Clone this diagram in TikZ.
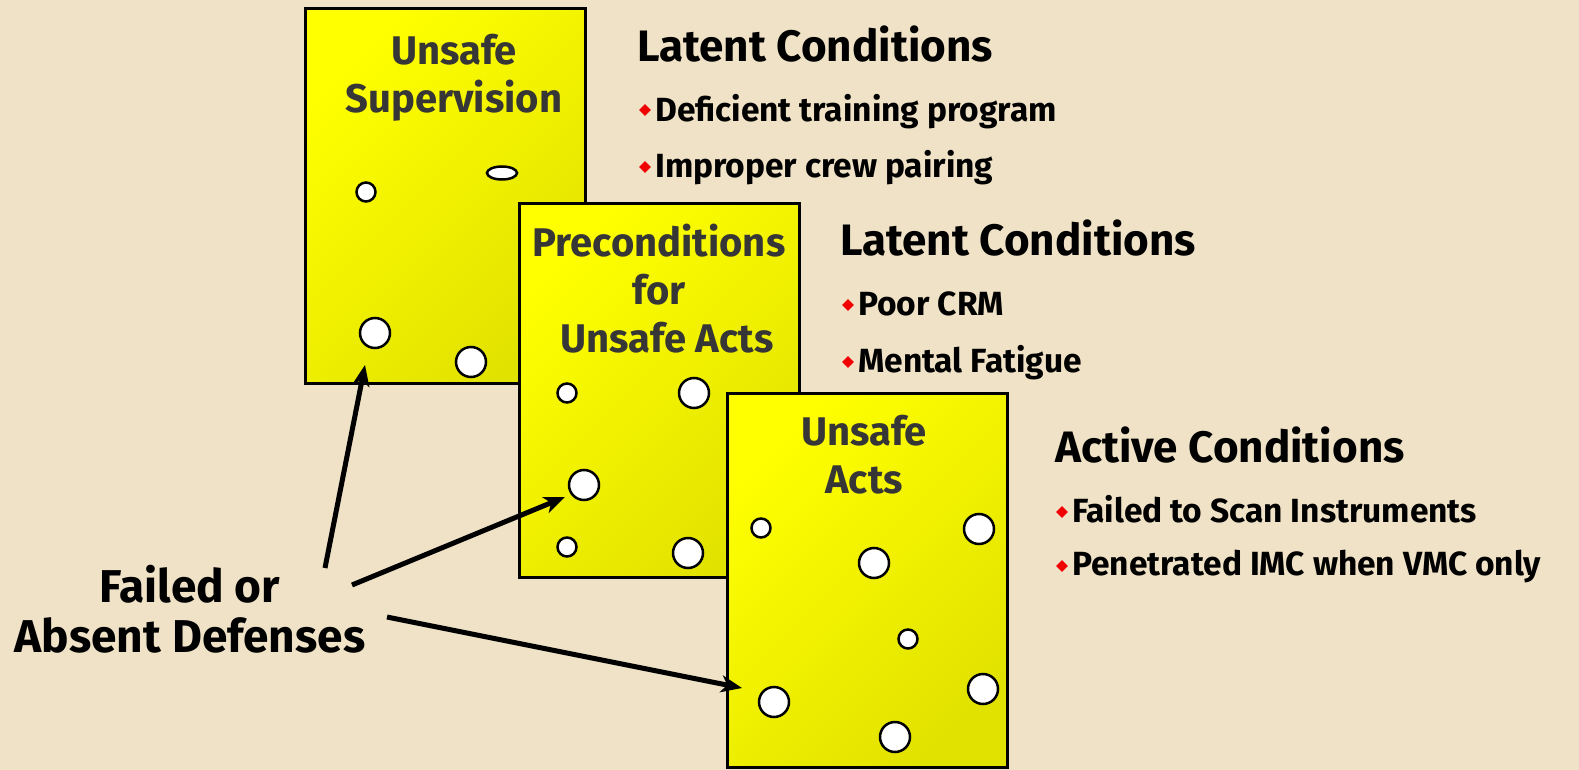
\documentclass[tikz,border=0pt]{standalone}
\usepackage{fontspec}
\setmainfont{Fira Sans}
\usetikzlibrary{shapes.geometric,arrows.meta}
\definecolor{parch}{HTML}{EFE2C6}
\definecolor{ylight}{HTML}{FFFF00}
\definecolor{ydark}{HTML}{E2E200}
\definecolor{titlegray}{HTML}{363636}
\definecolor{bulletred}{HTML}{F00000}
\begin{document}
\begin{tikzpicture}[x=1pt,y=-1pt,
  slice/.style={rectangle, draw=black, line width=3pt, minimum width=280pt, minimum height=374pt,
    inner sep=0pt, left color=ylight, right color=ydark, shading angle=45},
  hole/.style={circle, draw=black, fill=white, line width=2.5pt, inner sep=0pt},
  smallhole/.style={hole, minimum size=19pt},
  bighole/.style={hole, minimum size=30pt},
  slottitle/.style={font=\fontsize{40}{48}\selectfont\bfseries, text=titlegray, align=center, anchor=base, inner sep=0pt},
  header/.style={font=\fontsize{44}{53}\selectfont\bfseries, anchor=base west, inner sep=0pt},
  item/.style={font=\fontsize{33.5}{40}\selectfont\bfseries, anchor=base west, inner sep=0pt},
  bullet/.style={diamond, fill=bulletred, inner sep=0pt, minimum size=12pt},
  defarrow/.style={line width=5pt, -{Stealth[length=21pt,width=17pt,inset=6pt]}}
]
\fill[parch] (0,0) rectangle (1579,770);
\useasboundingbox (0,0) rectangle (1579,770);

% Slice 1
\node[slice] (s1) at (445.5,196) {};
\node[slottitle] (t1) at (454,113) {Unsafe\\Supervision};
\node[smallhole] (h1a) at (366,192) {};
\node[hole, ellipse, minimum width=30pt, minimum height=13pt] (h1b) at (502,173) {};
\node[bighole] (h1c) at (375,333) {};
\node[bighole] (h1d) at (471,362) {};

% Slice 2
\node[slice] (s2) at (659,390.5) {};
\node[slottitle] (t2) at (659,352) {Preconditions\\for\\\hspace*{16pt}Unsafe Acts};
\node[smallhole] (h2a) at (567,393) {};
\node[bighole] (h2b) at (694,393) {};
\node[bighole] (h2c) at (584,485) {};
\node[smallhole] (h2d) at (567,547) {};
\node[bighole] (h2e) at (688,553) {};

% Slice 3
\node[slice] (s3) at (867,580.5) {};
\node[slottitle] (t3) at (864,493) {Unsafe\\Acts};
\node[smallhole] (h3a) at (761,528) {};
\node[bighole] (h3b) at (979,529) {};
\node[bighole] (h3c) at (874,563) {};
\node[smallhole] (h3d) at (908,639) {};
\node[bighole] (h3e) at (983,689) {};
\node[bighole] (h3f) at (774,702) {};
\node[bighole] (h3g) at (895,737) {};

% Conditions text
\node[header] (lc1) at (637,62) {Latent Conditions};
\node[item] (i1a) at (655,122) {Deficient training program};
\node[bullet] (b1a) at (645,110) {};
\node[item] (i1b) at (655,178) {Improper crew pairing};
\node[bullet] (b1b) at (645,167) {};

\node[header] (lc2) at (840,255) {Latent Conditions};
\node[item] (i2a) at (858,315) {Poor CRM};
\node[bullet] (b2a) at (848,305) {};
\node[item] (i2b) at (858,372) {Mental Fatigue};
\node[bullet] (b2b) at (848,362) {};

\node[header] (ac) at (1055,462) {Active Conditions};
\node[item] (i3a) at (1072,522) {Failed to Scan Instruments};
\node[bullet] (b3a) at (1062,512) {};
\node[item] (i3b) at (1072,575) {Penetrated IMC when VMC only};
\node[bullet] (b3b) at (1062,566) {};

% Failed or absent defenses
\node[font=\fontsize{46}{50}\selectfont\bfseries, align=center, anchor=base, inner sep=0pt] (fd) at (190,652) {Failed or\\Absent Defenses};

\coordinate (a1s) at (325,568);
\coordinate (a1e) at (365,365);
\coordinate (a2s) at (352,585);
\coordinate (a2e) at (565,497);
\coordinate (a3s) at (387,617);
\coordinate (a3e) at (742,688);
\draw[defarrow] (a1s) -- (a1e);
\draw[defarrow] (a2s) -- (a2e);
\draw[defarrow] (a3s) -- (a3e);
\end{tikzpicture}
\end{document}
